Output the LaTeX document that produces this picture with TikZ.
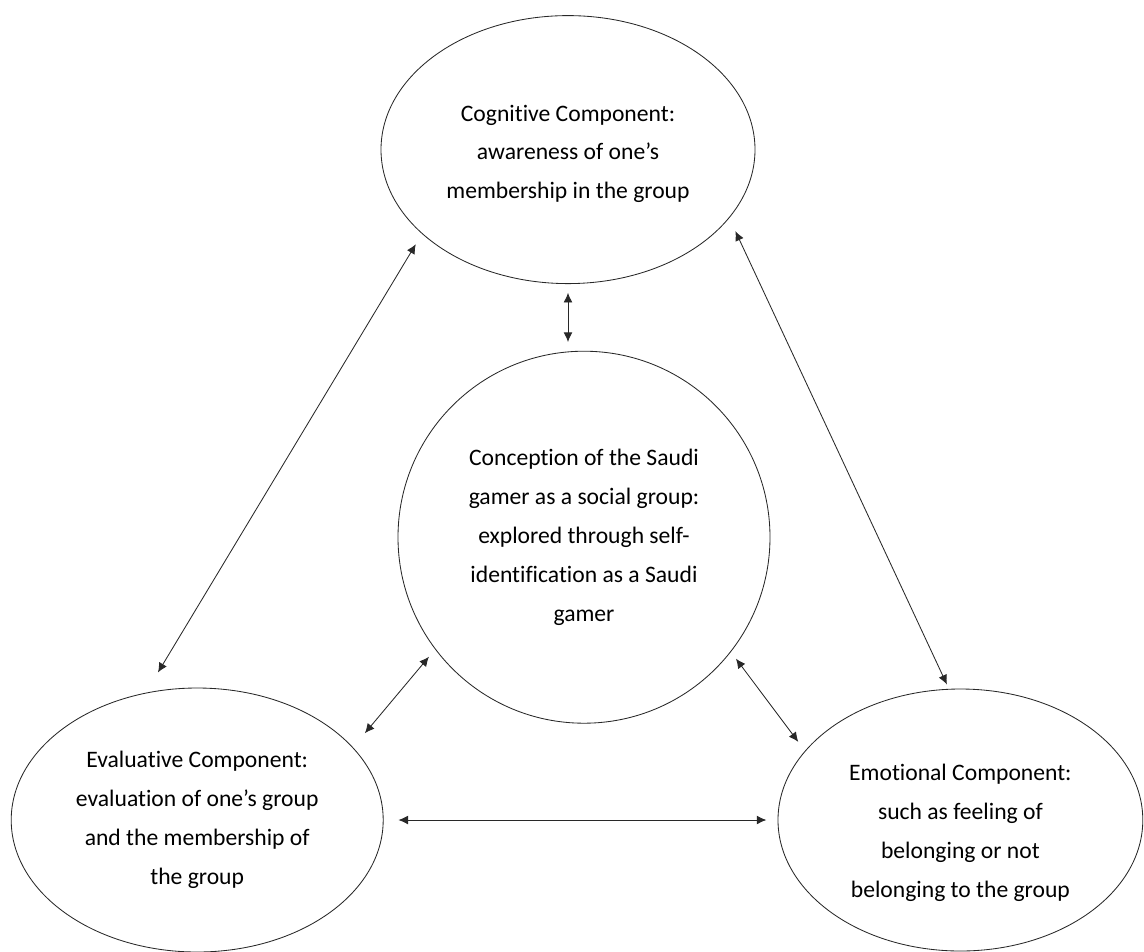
\documentclass[tikz,border=0pt]{standalone}
\usepackage{fontspec}
\setmainfont[Ligatures=NoCommon]{Carlito}
\definecolor{myline}{RGB}{40,40,40}
\usetikzlibrary{arrows.meta,shapes.geometric,positioning}

\begin{document}
\begin{tikzpicture}[
    every node/.style={draw=myline,line width=0.6pt,align=center,inner sep=0pt,
        font=\fontsize{16.8}{27.7}\selectfont},
    compnode/.style={ellipse},
    idnode/.style={circle,minimum size=9.3cm},
    link/.style={draw=myline,line width=0.6pt,{Latex[length=2.4mm,width=2.2mm]}-{Latex[length=2.4mm,width=2.2mm]}}
    ]
    \useasboundingbox (0,0) rectangle (28.6,-23.775);

    \node (idn) [idnode] at (14.6,-13.43)
        {Conception of the Saudi\\gamer as a social group:\\explored through self-\\identification as a Saudi\\gamer};
    \node (cog) [compnode,minimum width=9.35cm,minimum height=6.7cm] at (14.2,-3.74)
        {\rule{0pt}{0.62cm}Cognitive Component:\\awareness of one’s\\membership in the group};
    \node (eval) [compnode,minimum width=9.3cm,minimum height=6.6cm] at (4.93,-20.5)
        {Evaluative Component:\\evaluation of one’s group\\and the membership of\\the group};
    \node (emo) [compnode,minimum width=9.12cm,minimum height=6.55cm] at (24.01,-20.5)
        {\rule{0pt}{1.04cm}Emotional Component:\\such as feeling of\\belonging or not\\belonging to the group};

    % the links
    \draw[link,shorten <=0.3cm,shorten >=0.59cm] (cog.210.3) -- (eval.112);
    \draw[link,shorten <=0.36cm,shorten >=0.12cm] (cog.337.5) -- (emo.95.7);
    \draw[link,shorten <=0.22cm,shorten >=0.22cm] (cog.south) -- (cog.south |- idn.north);
    \draw[link,shorten <=0.24cm,shorten >=0.46cm] (idn.217.5) -- (eval.25.8);
    \draw[link,shorten <=0.21cm,shorten >=0.28cm] (idn.322.7) -- (emo.156.1);
    \draw[link,shorten <=0.37cm,shorten >=0.28cm] (eval) -- (emo);
\end{tikzpicture}
\end{document}
